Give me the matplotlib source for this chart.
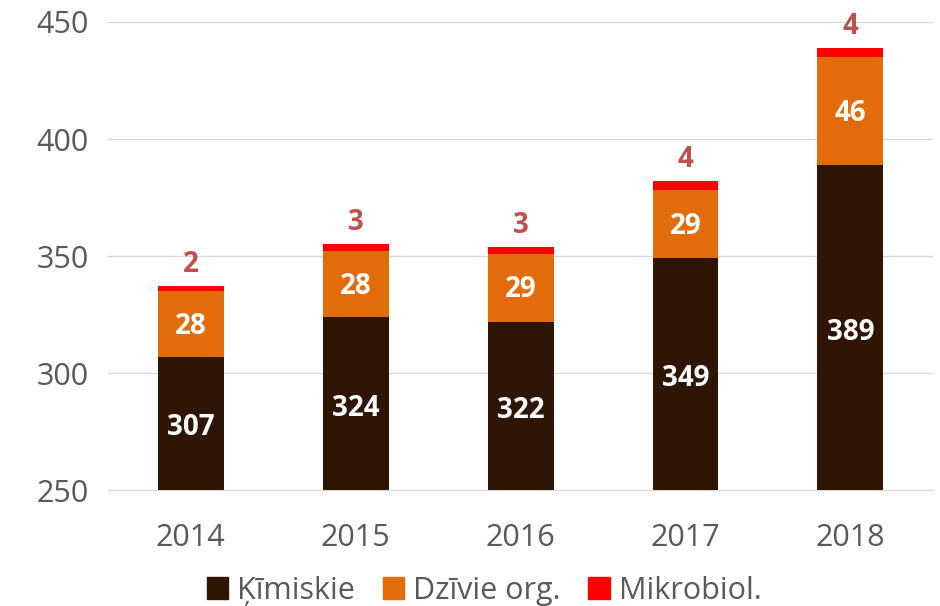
import matplotlib
matplotlib.use("Agg")
from matplotlib import pyplot as plt
from matplotlib.patches import Patch

years = ["2014", "2015", "2016", "2017", "2018"]
kimiskie = [307, 324, 322, 349, 389]
dzivie = [28, 28, 29, 29, 46]
mikrobiol = [2, 3, 3, 4, 4]

c_kim = "#2E1505"
c_dz = "#E36C0A"
c_mik = "#FF0000"

plt.rcParams['font.family'] = ['Open Sans', 'DejaVu Sans']

fig = plt.figure(figsize=(9.4, 6.06), dpi=100)
ax = fig.add_axes([0.115, 0.1914, 0.8775, 0.7723])

x = range(len(years))
w = 0.4
bottom2 = kimiskie
bottom3 = [a + b for a, b in zip(kimiskie, dzivie)]

ax.bar(x, kimiskie, w, color=c_kim, zorder=3)
ax.bar(x, dzivie, w, bottom=bottom2, color=c_dz, zorder=3)
ax.bar(x, mikrobiol, w, bottom=bottom3, color=c_mik, zorder=3)

# value labels
for i in x:
    ax.text(i, (250 + kimiskie[i]) / 2 - 2, str(kimiskie[i]), ha='center', va='center',
            color='white', fontsize=20, fontweight='bold', zorder=4)
    ax.text(i, kimiskie[i] + dzivie[i] / 2 - 1, str(dzivie[i]), ha='center', va='center',
            color='white', fontsize=20, fontweight='bold', zorder=4)
    ax.text(i, bottom3[i] + mikrobiol[i] + 3, str(mikrobiol[i]), ha='center', va='bottom',
            color='#C0504D', fontsize=20, fontweight='bold', zorder=4, clip_on=False)

ax.set_ylim(250, 450)
ax.set_xlim(-0.5, 4.5)
ax.set_yticks([250, 300, 350, 400, 450])
ax.set_xticks(list(x))
ax.set_xticklabels(years)
ax.tick_params(axis='both', length=0, labelsize=22, labelcolor='#595959')
ax.tick_params(axis='x', pad=24)
ax.tick_params(axis='y', pad=14)

ax.grid(axis='y', color='#D9D9D9', linewidth=1, zorder=0)
for s in ['top', 'right', 'left']:
    ax.spines[s].set_visible(False)
ax.spines['bottom'].set_color('#D9D9D9')

handles = [Patch(color=c_kim, label='Ķīmiskie'),
           Patch(color=c_dz, label='Dzīvie org.'),
           Patch(color=c_mik, label='Mikrobiol.')]
leg = fig.legend(handles=handles, loc='lower center', bbox_to_anchor=(0.515, -0.045), ncol=3,
                 frameon=False, fontsize=22, handlelength=0.7, handleheight=0.7,
                 handletextpad=0.3, columnspacing=0.9)
for t in leg.get_texts():
    t.set_color('#595959')

plt.savefig('out.png', dpi=100)
